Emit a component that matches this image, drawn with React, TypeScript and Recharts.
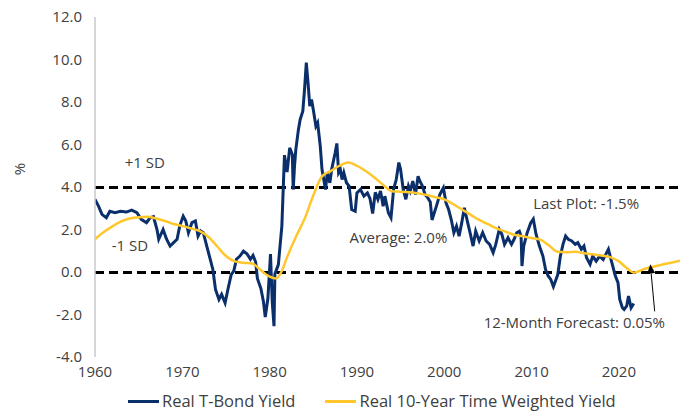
import { Line, LineChart, ReferenceDot, ReferenceLine, XAxis, YAxis } from 'recharts';

const FONT = '"Open Sans", "Noto Sans", sans-serif';
const TEXT = '#404040';
const NAVY = '#0A2F6B';
const GOLD = '#FFC72C';

const X_TICKS = [1960, 1970, 1980, 1990, 2000, 2010, 2020];
const Y_TICKS = [-4, -2, 0, 2, 4, 6, 8, 10, 12];
const PLUS_ONE_SD = 3.98;
const MINUS_ONE_SD = -0.02;

// [year, %]
const tBondYield: [number, number][] = [
  [1960.0, 3.42], [1960.4, 3.1], [1960.8, 2.71], [1961.3, 2.55], [1961.7, 2.86],
  [1962.3, 2.79], [1962.9, 2.86], [1963.6, 2.82], [1964.2, 2.91], [1964.8, 2.79],
  [1965.3, 2.48], [1965.9, 2.32], [1966.3, 2.55], [1966.7, 2.6], [1967.1, 2.0],
  [1967.3, 1.54], [1967.8, 2.0], [1968.2, 1.54], [1968.6, 1.22], [1969.0, 1.38],
  [1969.4, 1.54], [1969.7, 2.16], [1970.1, 2.63], [1970.4, 2.4], [1970.7, 1.85],
  [1971.1, 2.32], [1971.5, 2.4], [1971.8, 1.69], [1972.1, 1.93], [1972.4, 1.85],
  [1972.8, 1.22], [1973.2, 0.59], [1973.5, 0.12], [1973.8, -0.82], [1974.2, -1.29],
  [1974.5, -1.05], [1974.9, -1.45], [1975.3, -0.67], [1975.6, -0.12], [1975.9, 0.05],
  [1976.2, 0.6], [1976.6, 0.75], [1977.0, 0.98], [1977.4, 0.86], [1977.8, 0.6],
  [1978.1, 0.78], [1978.4, 0.47], [1978.6, -0.3], [1979.0, -0.78], [1979.3, -1.41],
  [1979.5, -2.12], [1979.8, -1.25], [1980.1, 0.84], [1980.3, -1.41], [1980.5, -2.55],
  [1980.6, -0.1], [1981.0, 0.35], [1981.4, 2.16], [1981.7, 5.5], [1982.0, 4.7],
  [1982.3, 5.84], [1982.6, 5.53], [1982.7, 3.88], [1982.85, 4.98], [1983.0, 5.76],
  [1983.3, 6.71], [1983.5, 7.18], [1983.8, 7.57], [1984.0, 8.59], [1984.2, 9.85],
  [1984.4, 8.9], [1984.6, 7.8], [1984.8, 8.12], [1985.0, 7.65], [1985.3, 6.86],
  [1985.5, 7.02], [1985.8, 5.92], [1986.0, 4.82], [1986.2, 4.35], [1986.4, 3.88],
  [1986.6, 4.67], [1986.9, 4.2], [1987.1, 4.82], [1987.5, 5.6], [1987.7, 6.05],
  [1987.9, 4.67], [1988.1, 4.82], [1988.3, 4.35], [1988.5, 4.67], [1988.8, 4.2],
  [1989.1, 4.04], [1989.4, 2.94], [1989.8, 2.86], [1990.0, 3.72], [1990.4, 3.88],
  [1990.8, 3.57], [1991.2, 3.72], [1991.5, 3.45], [1991.8, 2.75], [1992.1, 3.75],
  [1992.4, 3.42], [1992.7, 3.81], [1993.0, 3.1], [1993.2, 3.57], [1993.6, 2.79],
  [1993.9, 2.55], [1994.2, 3.89], [1994.5, 4.35], [1994.8, 5.15], [1995.0, 4.82],
  [1995.3, 3.89], [1995.6, 3.42], [1995.9, 4.04], [1996.1, 3.81], [1996.4, 4.28],
  [1996.7, 3.65], [1997.0, 4.51], [1997.2, 4.28], [1997.5, 4.04], [1997.8, 3.65],
  [1998.1, 3.5], [1998.4, 3.3], [1998.6, 2.45], [1999.1, 3.1], [1999.5, 3.65],
  [1999.9, 3.96], [2000.2, 3.26], [2000.5, 2.94], [2000.8, 2.47], [2001.1, 1.85],
  [2001.4, 2.16], [2001.7, 1.69], [2002.0, 2.31], [2002.3, 3.02], [2002.6, 2.47],
  [2003.0, 1.77], [2003.3, 1.22], [2003.6, 1.92], [2004.0, 1.46], [2004.4, 1.85],
  [2004.8, 1.46], [2005.2, 1.3], [2005.6, 0.91], [2005.9, 1.3], [2006.3, 2.0],
  [2006.6, 1.77], [2006.9, 1.3], [2007.3, 1.61], [2007.7, 1.3], [2008.0, 1.54],
  [2008.3, 1.85], [2008.6, 1.92], [2008.8, 1.69], [2008.9, 0.28], [2009.1, 1.22],
  [2009.5, 1.85], [2009.9, 2.31], [2010.2, 2.49], [2010.5, 1.8], [2010.9, 1.22],
  [2011.3, 0.75], [2011.6, 0.12], [2011.9, -0.19], [2012.2, -0.35], [2012.5, -0.69],
  [2012.8, -0.35], [2013.0, -0.12], [2013.3, 0.75], [2013.6, 1.3], [2013.9, 1.69],
  [2014.2, 1.54], [2014.6, 1.46], [2015.0, 1.3], [2015.3, 1.38], [2015.7, 1.07],
  [2016.0, 1.22], [2016.3, 0.67], [2016.7, 0.36], [2017.0, 0.75], [2017.4, 0.51],
  [2017.8, 0.75], [2018.2, 0.59], [2018.6, 0.91], [2018.8, 1.07], [2019.0, 0.75],
  [2019.3, 0.28], [2019.6, -0.19], [2019.9, -0.5], [2020.1, -1.29], [2020.4, -1.68],
  [2020.6, -1.76], [2020.9, -1.6], [2021.1, -1.13], [2021.4, -1.68], [2021.7, -1.48],
];

const timeWeightedYield: [number, number][] = [
  [1960, 1.54], [1961, 1.88], [1962, 2.15], [1963, 2.38], [1964, 2.52], [1965, 2.58],
  [1966, 2.6], [1967, 2.52], [1968, 2.4], [1969, 2.26], [1970, 2.16], [1971, 2.05],
  [1972, 1.92], [1973, 1.65], [1974, 1.2], [1975, 0.75], [1976, 0.5], [1977, 0.44],
  [1978, 0.4], [1979, 0.08], [1980, -0.22], [1980.7, -0.31], [1981.4, 0.05], [1982, 0.7],
  [1983, 1.65], [1984, 2.5], [1985, 3.6], [1986, 4.5], [1987, 4.75], [1988, 5.0],
  [1989, 5.15], [1990, 5.0], [1991, 4.75], [1992, 4.45], [1993, 4.1], [1994, 3.8],
  [1995, 3.78], [1996, 3.75], [1997, 3.7], [1998, 3.62], [1999, 3.52], [2000, 3.42],
  [2001, 3.2], [2002, 2.95], [2003, 2.7], [2004, 2.45], [2005, 2.25], [2006, 2.05],
  [2007, 1.9], [2008, 1.75], [2009, 1.68], [2010, 1.6], [2011, 1.52], [2012, 1.25],
  [2013, 0.95], [2014, 0.93], [2015, 0.95], [2016, 0.88], [2017, 0.83], [2018, 0.78],
  [2019, 0.7], [2020, 0.5], [2021, 0.15], [2021.7, -0.03], [2023, 0.15], [2025, 0.35],
  [2027, 0.53],
];

// text notes anchored in data coordinates (year, %)
const NOTES = [
  { text: '+1 SD', year: 1965.7, value: 5.16 },
  { text: '-1 SD', year: 1964.0, value: 1.25 },
  { text: 'Average: 2.0%', year: 1994.75, value: 1.63 },
  { text: 'Last Plot: -1.5%', year: 2016.25, value: 3.23 },
  { text: '12-Month Forecast: 0.05%', year: 2014.9, value: -2.37 },
];
const ARROW_FROM = { x: 2024.1, y: -1.85 };
const ARROW_TO = { x: 2023.6, y: 0.36 };

const tBondData = tBondYield.map(([year, v]) => ({ year, v }));
const weightedData = timeWeightedYield.map(([year, v]) => ({ year, v }));

function Arrow(props: any) {
  const { x1, y1, x2, y2 } = props;
  if ([x1, y1, x2, y2].some((n) => typeof n !== 'number')) return <g />;
  const dx = x2 - x1;
  const dy = y2 - y1;
  const len = Math.hypot(dx, dy) || 1;
  const ux = dx / len;
  const uy = dy / len;
  const head = 9;
  const half = 4;
  const bx = x2 - ux * head;
  const by = y2 - uy * head;
  return (
    <g>
      <line x1={x1} y1={y1} x2={bx} y2={by} stroke="#000" strokeWidth={1} />
      <polygon
        points={`${x2},${y2} ${bx - uy * half},${by + ux * half} ${bx + uy * half},${by - ux * half}`}
        fill="#000"
      />
    </g>
  );
}

function Legend() {
  const items = [
    { label: 'Real T-Bond Yield', color: NAVY },
    { label: 'Real 10-Year Time Weighted Yield', color: GOLD },
  ];
  return (
    <div
      style={{
        position: 'absolute',
        left: 128,
        top: 390,
        display: 'flex',
        gap: 30,
        fontFamily: FONT,
        fontSize: 16.5,
        color: TEXT,
        lineHeight: '22px',
      }}
    >
      {items.map((it) => (
        <span key={it.label} style={{ display: 'flex', alignItems: 'center', gap: 3 }}>
          <span style={{ display: 'inline-block', width: 31, height: 3, background: it.color }} />
          {it.label}
        </span>
      ))}
    </div>
  );
}

export default function App() {
  return (
    <div style={{ position: 'absolute', left: 0, top: 0, width: 689, height: 411, background: '#fff' }}>
      <LineChart
        width={689}
        height={411}
        margin={{ top: 17, right: 9, bottom: 24, left: 0 }}
        style={{ fontFamily: FONT }}
      >
        <XAxis
          dataKey="year"
          type="number"
          domain={[1960, 2027]}
          ticks={X_TICKS}
          allowDataOverflow
          axisLine={false}
          tickLine={false}
          tickSize={0}
          tickMargin={9}
          height={30}
          tick={{ fill: TEXT, fontSize: 15 }}
        />
        <YAxis
          type="number"
          domain={[-4, 12]}
          ticks={Y_TICKS}
          width={95}
          allowDataOverflow
          axisLine={{ stroke: '#C8C8C8', strokeWidth: 1.5 }}
          tickLine={false}
          tickSize={0}
          tickMargin={13}
          tickFormatter={(v: number) => v.toFixed(1)}
          tick={{ fill: TEXT, fontSize: 15 }}
          label={() => (
            <text
              x={19}
              y={169}
              transform="rotate(-90 19 169)"
              textAnchor="middle"
              dominantBaseline="central"
              fill={TEXT}
              fontSize={15}
              fontFamily={FONT}
            >
              %
            </text>
          )}
        />
        <ReferenceLine y={PLUS_ONE_SD} stroke="#000" strokeWidth={3} strokeDasharray="9 5" />
        <ReferenceLine y={MINUS_ONE_SD} stroke="#000" strokeWidth={3} strokeDasharray="9 5" />
        <Line
          data={tBondData}
          dataKey="v"
          type="linear"
          stroke={NAVY}
          strokeWidth={3}
          dot={false}
          isAnimationActive={false}
        />
        <Line
          data={weightedData}
          dataKey="v"
          type="monotone"
          stroke={GOLD}
          strokeWidth={2.5}
          dot={false}
          isAnimationActive={false}
        />
        <ReferenceLine segment={[ARROW_FROM, ARROW_TO]} shape={Arrow} />
        {NOTES.map((n) => (
          <ReferenceDot
            key={n.text}
            x={n.year}
            y={n.value}
            r={0}
            fill="none"
            stroke="none"
            label={{ value: n.text, position: 'center', fill: TEXT, fontSize: 15 }}
          />
        ))}
      </LineChart>
      <Legend />
    </div>
  );
}
